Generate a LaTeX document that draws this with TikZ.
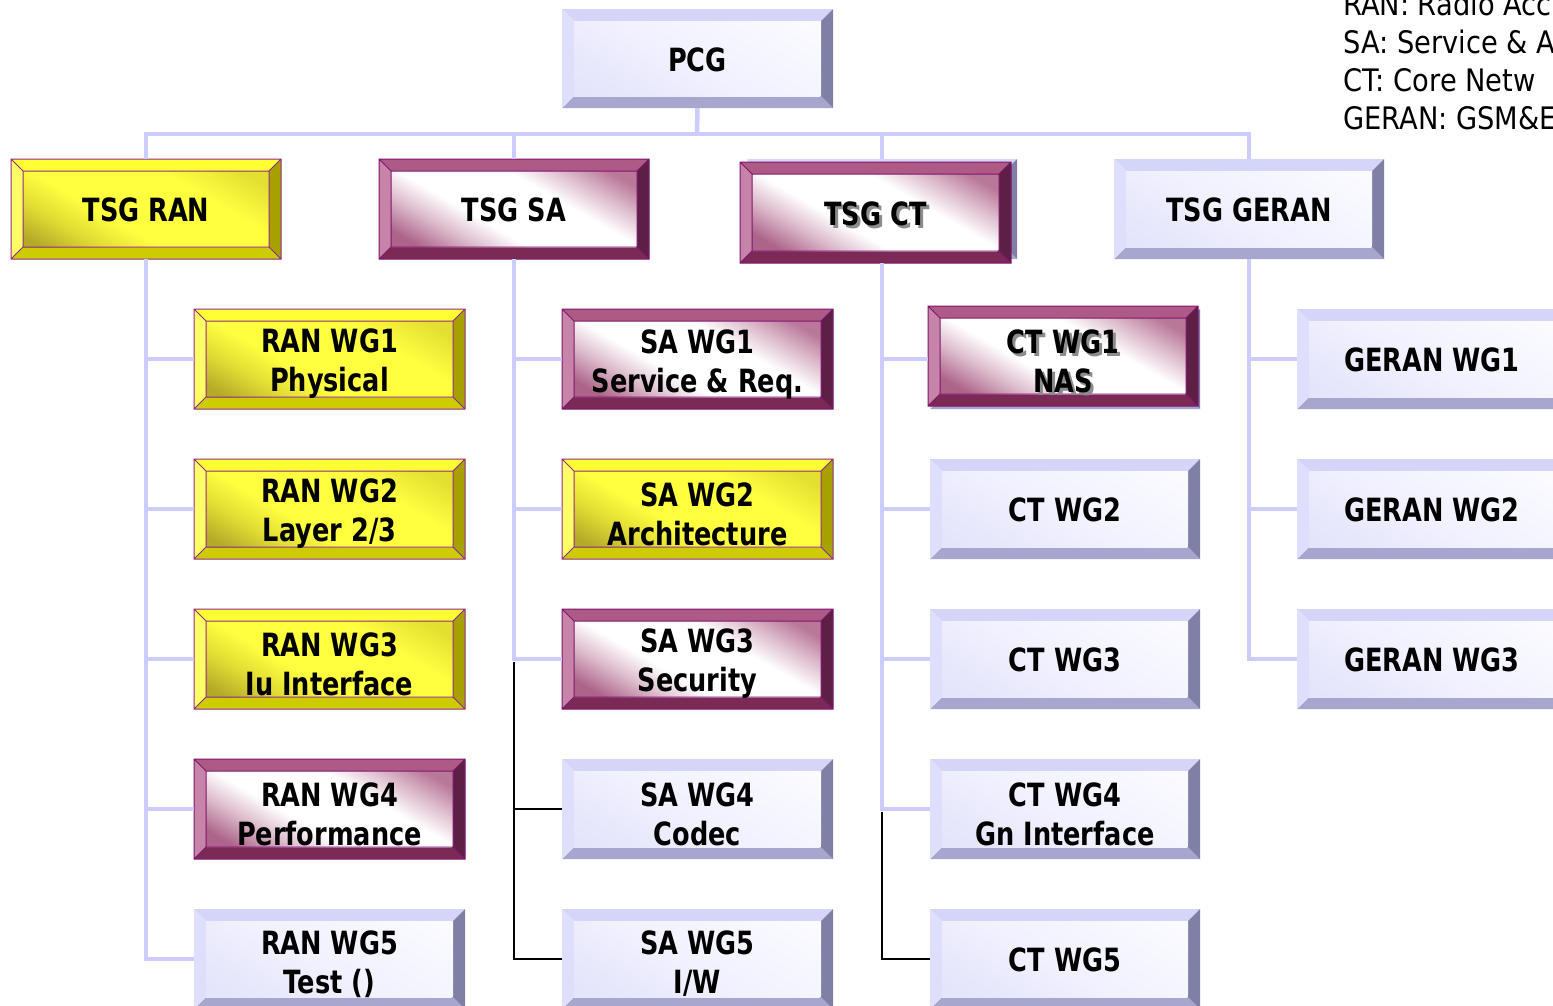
\documentclass[tikz,border=0pt]{standalone}
\usepackage{fontspec}
\setmainfont{DejaVu Sans}[FakeStretch=0.8]
\newfontfamily\legendfont{DejaVu Sans}[FakeStretch=0.88]
\definecolor{cLine}{RGB}{204,204,255}
\definecolor{cYtop}{RGB}{255,255,51}
\definecolor{cYleft}{RGB}{255,255,102}
\definecolor{cYright}{RGB}{166,160,0}
\definecolor{cYbot}{RGB}{204,204,0}
\definecolor{cYfA}{RGB}{180,170,40}
\definecolor{cYfM}{RGB}{225,220,52}
\definecolor{cYfB}{RGB}{255,255,64}
\definecolor{cYfC}{RGB}{228,224,50}
\definecolor{cYedge}{RGB}{150,40,140}
\definecolor{cPtop}{RGB}{173,91,134}
\definecolor{cPleft}{RGB}{197,132,168}
\definecolor{cPright}{RGB}{93,31,69}
\definecolor{cPbot}{RGB}{123,42,86}
\definecolor{cPfA}{RGB}{172,100,136}
\definecolor{cPfM}{RGB}{222,190,206}
\definecolor{cPfC}{RGB}{185,120,152}
\definecolor{cPedge}{RGB}{128,20,110}
\definecolor{cLtop}{RGB}{213,213,249}
\definecolor{cLleft}{RGB}{222,222,253}
\definecolor{cLright}{RGB}{128,128,166}
\definecolor{cLbot}{RGB}{166,166,206}
\definecolor{cLfA}{RGB}{228,228,251}
\definecolor{cLfB}{RGB}{242,242,255}
\definecolor{cLfC}{RGB}{250,250,255}
\definecolor{cShadow}{RGB}{140,140,140}
\pgfdeclareverticalshading{ylwshade}{100bp}{color(0bp)=(cYfA); color(33bp)=(cYfA); color(39bp)=(cYfM); color(45bp)=(cYfB); color(58bp)=(cYfB); color(66bp)=(cYfC); color(100bp)=(cYfC)}
\pgfdeclareverticalshading{purshade}{100bp}{color(0bp)=(cPfA); color(34bp)=(cPfA); color(40bp)=(cPfM); color(45bp)=(white); color(56bp)=(white); color(61bp)=(cPfM); color(66bp)=(cPfC); color(100bp)=(cPfC)}
\pgfdeclareverticalshading{lavshade}{100bp}{color(0bp)=(cLfA); color(33bp)=(cLfA); color(50bp)=(cLfB); color(67bp)=(cLfC); color(100bp)=(cLfC)}
\tikzset{
  boxnode/.style={rectangle, inner sep=0pt, outer sep=0pt},
  boxtext/.style={font=\bfseries\fontsize{32}{39}\selectfont, align=center, text=black, inner sep=0pt, yshift=-1pt},
  twoline/.style={yshift=-4pt},
  shadowtext/.style={boxtext, text=cShadow},
  legendtext/.style={font=\legendfont\fontsize{31}{38}\selectfont, text=black, inner sep=0pt, anchor=base west},
  lavline/.style={draw=cLine, line width=4.5pt, line join=miter},
  blkline/.style={draw=black, line width=2pt, line join=miter},
  ylwtop/.style={fill=cYtop}, ylwleft/.style={fill=cYleft},
  ylwright/.style={fill=cYright}, ylwbot/.style={fill=cYbot},
  ylwedge/.style={draw=cYedge, line width=1pt},
  purtop/.style={fill=cPtop}, purleft/.style={fill=cPleft},
  purright/.style={fill=cPright}, purbot/.style={fill=cPbot},
  puredge/.style={draw=cPedge, line width=1pt},
  lavtop/.style={fill=cLtop}, lavleft/.style={fill=cLleft},
  lavright/.style={fill=cLright}, lavbot/.style={fill=cLbot},
  lavedge/.style={},
}
% #1 name, #2 x1, #3 y1, #4 x2, #5 y2, #6 scheme
\newcommand\bevbox[6]{%
  \node[boxnode, minimum width={#4pt-#2pt}, minimum height={#5pt-#3pt}] (#1) at ({(#2+#4)/2},{(#3+#5)/2}) {};
  \fill[#6top] (#2,#3) -- (#4,#3) -- ({#4-12},{#3+12}) -- ({#2+12},{#3+12}) -- cycle;
  \fill[#6bot] (#2,#5) -- (#4,#5) -- ({#4-12},{#5-12}) -- ({#2+12},{#5-12}) -- cycle;
  \fill[#6left] (#2,#3) -- ({#2+12},{#3+12}) -- ({#2+12},{#5-12}) -- (#2,#5) -- cycle;
  \fill[#6right] (#4,#3) -- ({#4-12},{#3+12}) -- ({#4-12},{#5-12}) -- (#4,#5) -- cycle;
  \begin{scope}
    \clip ({#2+12},{#3+12}) rectangle ({#4-12},{#5-12});
    \shade[shading=#6shade, transform canvas={rotate around={-30:(#1.center)}}]
      ([shift={(-125,-125)}]#1.center) rectangle ([shift={(125,125)}]#1.center);
  \end{scope}
  \path[#6edge] (#2,#3) rectangle (#4,#5) ({#2+12},{#3+12}) rectangle ({#4-12},{#5-12})
     (#2,#3) -- ({#2+12},{#3+12}) (#4,#3) -- ({#4-12},{#3+12})
     (#2,#5) -- ({#2+12},{#5-12}) (#4,#5) -- ({#4-12},{#5-12});
}
\begin{document}
\begin{tikzpicture}[x=1pt,y=-1pt]
\useasboundingbox (0,0) rectangle (1553,1005);
\clip (0,0) rectangle (1553,1005);
\fill[white] (0,0) rectangle (1553,1005);

% legend
\node[legendtext] (leg1) at (1343,15) {RAN: Radio Acc};
\node[legendtext] (leg2) at (1343,53) {SA: Service \& A};
\node[legendtext] (leg3) at (1343,91) {CT: Core Netw};
\node[legendtext] (leg4) at (1343,129) {GERAN: GSM\&E};

% top level
\bevbox{pcg}{562}{9}{833}{108}{lav}
\node[boxtext] (pcg-t) at (pcg) {PCG};
\bevbox{tsgran}{11}{159}{281}{259}{ylw}
\node[boxtext] (tsgran-t) at (tsgran) {TSG RAN};
\bevbox{tsgsa}{379}{159}{649}{259}{pur}
\node[boxtext] (tsgsa-t) at (tsgsa) {TSG SA};
\bevbox{tsgctbg}{747}{159}{1017}{259}{lav}
\bevbox{tsgct}{740}{162}{1011}{263}{pur}
\node[shadowtext] (tsgct-s) at ([shift={(3,3)}]tsgct.center) {TSG CT};
\node[boxtext] (tsgct-t) at (tsgct) {TSG CT};
\bevbox{tsggeran}{1114}{159}{1384}{259}{lav}
\node[boxtext] (tsggeran-t) at (tsggeran) {TSG GERAN};

% RAN WGs
\bevbox{ranwg1}{194}{309}{465}{409}{ylw}
\node[boxtext,twoline] (ranwg1-t) at (ranwg1) {RAN WG1\\Physical};
\bevbox{ranwg2}{194}{459}{465}{559}{ylw}
\node[boxtext,twoline] (ranwg2-t) at (ranwg2) {RAN WG2\\Layer 2/3};
\bevbox{ranwg3}{194}{609}{465}{709}{ylw}
\node[boxtext,twoline] (ranwg3-t) at (ranwg3) {RAN WG3\\Iu Interface};
\bevbox{ranwg4}{194}{759}{465}{859}{pur}
\node[boxtext,twoline] (ranwg4-t) at (ranwg4) {RAN WG4\\Performance};
\bevbox{ranwg5}{194}{909}{465}{1009}{lav}
\node[boxtext,twoline] (ranwg5-t) at (ranwg5) {RAN WG5\\Test ()};

% SA WGs
\bevbox{sawg1}{562}{309}{833}{409}{pur}
\node[boxtext,twoline] (sawg1-t) at (sawg1) {SA WG1\\Service \& Req.};
\bevbox{sawg2}{562}{459}{833}{559}{ylw}
\node[boxtext,twoline] (sawg2-t) at (sawg2) {SA WG2\\Architecture};
\bevbox{sawg3}{562}{609}{833}{709}{pur}
\node[boxtext,twoline] (sawg3-t) at (sawg3) {SA WG3\\Security};
\bevbox{sawg4}{562}{759}{833}{859}{lav}
\node[boxtext,twoline] (sawg4-t) at (sawg4) {SA WG4\\Codec};
\bevbox{sawg5}{562}{909}{833}{1009}{lav}
\node[boxtext,twoline] (sawg5-t) at (sawg5) {SA WG5\\I/W};

% CT WGs
\bevbox{ctwg1bg}{930}{309}{1200}{409}{lav}
\bevbox{ctwg1}{928}{306}{1198}{406}{pur}
\node[shadowtext,twoline] (ctwg1-s) at ([shift={(3,3)}]ctwg1.center) {CT WG1\\NAS};
\node[boxtext,twoline] (ctwg1-t) at (ctwg1) {CT WG1\\NAS};
\bevbox{ctwg2}{930}{459}{1200}{559}{lav}
\node[boxtext] (ctwg2-t) at (ctwg2) {CT WG2};
\bevbox{ctwg3}{930}{609}{1200}{709}{lav}
\node[boxtext] (ctwg3-t) at (ctwg3) {CT WG3};
\bevbox{ctwg4}{930}{759}{1200}{859}{lav}
\node[boxtext,twoline] (ctwg4-t) at (ctwg4) {CT WG4\\Gn Interface};
\bevbox{ctwg5}{930}{909}{1200}{1009}{lav}
\node[boxtext] (ctwg5-t) at (ctwg5) {CT WG5};

% GERAN WGs
\bevbox{geranwg1}{1297}{309}{1567}{409}{lav}
\node[boxtext] (geranwg1-t) at (geranwg1) {GERAN WG1};
\bevbox{geranwg2}{1297}{459}{1567}{559}{lav}
\node[boxtext] (geranwg2-t) at (geranwg2) {GERAN WG2};
\bevbox{geranwg3}{1297}{609}{1567}{709}{lav}
\node[boxtext] (geranwg3-t) at (geranwg3) {GERAN WG3};

% connectors: top level
\coordinate (bus) at (697,134);
\draw[lavline] (pcg.south) -- (bus);
\draw[lavline] (tsgran.north) -- (tsgran.north |- bus) -- (tsggeran.north |- bus) -- (tsggeran.north);
\draw[lavline] (tsgsa.north |- bus) -- (tsgsa.north);
\draw[lavline] (tsgctbg.north |- bus) -- (tsgctbg.north);

% RAN branches
\draw[lavline] (tsgran.south) -- (tsgran.south |- ranwg5.west) -- (ranwg5.west);
\draw[lavline] (tsgran.south |- ranwg1.west) -- (ranwg1.west);
\draw[lavline] (tsgran.south |- ranwg2.west) -- (ranwg2.west);
\draw[lavline] (tsgran.south |- ranwg3.west) -- (ranwg3.west);
\draw[lavline] (tsgran.south |- ranwg4.west) -- (ranwg4.west);

% SA branches
\draw[lavline] (tsgsa.south) -- (tsgsa.south |- sawg3.west) -- (sawg3.west);
\draw[lavline] (tsgsa.south |- sawg1.west) -- (sawg1.west);
\draw[lavline] (tsgsa.south |- sawg2.west) -- (sawg2.west);
\draw[blkline] ([yshift=-3pt]tsgsa.south |- sawg3.west) -- (tsgsa.south |- sawg5.west) -- (sawg5.west);
\draw[blkline] (tsgsa.south |- sawg4.west) -- (sawg4.west);

% CT branches
\draw[lavline] (tsgctbg.south |- tsgct.south) -- (tsgctbg.south |- ctwg4.west) -- (ctwg4.west);
\draw[lavline] (tsgctbg.south |- ctwg1bg.west) -- (ctwg1.west |- ctwg1bg.west);
\draw[lavline] (tsgctbg.south |- ctwg2.west) -- (ctwg2.west);
\draw[lavline] (tsgctbg.south |- ctwg3.west) -- (ctwg3.west);
\draw[blkline] ([yshift=-3pt]tsgctbg.south |- ctwg4.west) -- (tsgctbg.south |- ctwg5.west) -- (ctwg5.west);

% GERAN branches
\draw[lavline] (tsggeran.south) -- (tsggeran.south |- geranwg3.west) -- (geranwg3.west);
\draw[lavline] (tsggeran.south |- geranwg1.west) -- (geranwg1.west);
\draw[lavline] (tsggeran.south |- geranwg2.west) -- (geranwg2.west);
\end{tikzpicture}
\end{document}
